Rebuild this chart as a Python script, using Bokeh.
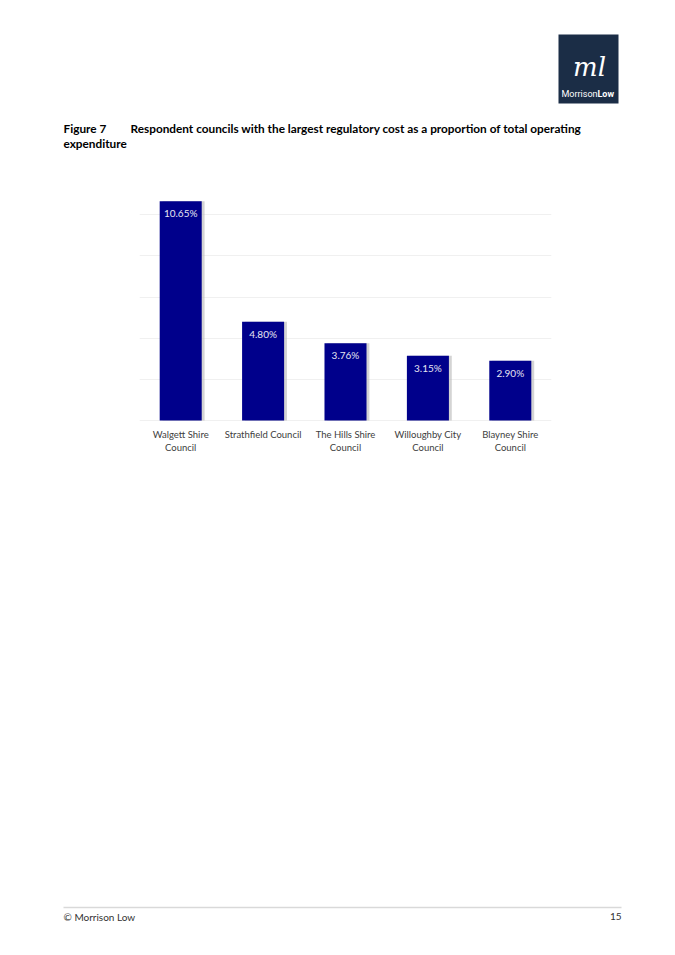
from bokeh.plotting import figure
from bokeh.layouts import column
from bokeh.models import Range1d, FactorRange, ColumnDataSource, Grid, FixedTicker
from bokeh.transform import dodge
from bokeh.core.properties import value
from bokeh.embed import file_html
from bokeh.resources import INLINE

# ---------------- data ----------------
councils = ["Walgett Shire Council", "Strathfield Council", "The Hills Shire Council",
            "Willoughby City Council", "Blayney Shire Council"]
council_line1 = ["Walgett Shire", "Strathfield Council", "The Hills Shire", "Willoughby City", "Blayney Shire"]
council_line2 = ["Council", "", "Council", "Council", "Council"]
cost_share = [10.65, 4.80, 3.76, 3.15, 2.90]
value_labels = ["10.65%", "4.80%", "3.76%", "3.15%", "2.90%"]
y_ticks = [0, 2, 4, 6, 8, 10, 12]

title_num = "Figure 7"
title_line1 = "Respondent councils with the largest regulatory cost as a proportion of total operating"
title_line2 = "expenditure"
footer_left = "\u00a9 Morrison Low"
footer_right = "15"

W = 675
FONT = "Lato"
BAR = "#00008B"

# ---------------- header ----------------
HH = 160
head = figure(width=W, height=HH, x_range=Range1d(0, W), y_range=Range1d(HH, 0),
              x_axis_type=None, y_axis_type=None, toolbar_location=None,
              output_backend="svg", min_border=0, outline_line_color=None, frame_align=False)
head.grid.visible = False
head.quad(left=[558], right=[618], top=[34], bottom=[103], fill_color="#1B2D46", line_color=None)
head.text(x=[589], y=[66], text=["ml"], text_align="center", text_baseline="middle",
          text_font=value("DejaVu Serif"), text_font_style="italic", text_font_size="26px",
          text_color="white")
head.text(x=[597], y=[93], text=["Morrison"], text_align="right", text_baseline="middle",
          text_font=value("Roboto"), text_font_size="9px", text_color="white")
head.text(x=[597], y=[93], text=["Low"], text_align="left", text_baseline="middle",
          text_font=value("Roboto"), text_font_style="bold", text_font_size="9px", text_color="white")
head.text(x=[63], y=[128], text=[title_num], text_align="left", text_baseline="middle",
          text_font=value(FONT), text_font_style="bold", text_font_size="11.8px", text_color="black")
head.text(x=[130], y=[128], text=[title_line1], text_align="left", text_baseline="middle",
          text_font=value(FONT), text_font_style="bold", text_font_size="11.8px", text_color="black")
head.text(x=[63], y=[143], text=[title_line2], text_align="left", text_baseline="middle",
          text_font=value(FONT), text_font_style="bold", text_font_size="11.8px", text_color="black")

# ---------------- chart ----------------
CH = 310
source = ColumnDataSource(dict(council=councils, share=cost_share, label=value_labels,
                               l1=council_line1, l2=council_line2, base=[0] * len(councils)))
chart = figure(width=W, height=CH, x_range=FactorRange(factors=councils, range_padding=0),
               y_range=Range1d(-1.94, 12), x_axis_type=None, y_axis_type=None,
               toolbar_location=None, output_backend="svg", min_border_left=139,
               min_border_right=124, min_border_top=13, min_border_bottom=10,
               outline_line_color=None, frame_align=False)
chart.add_layout(Grid(dimension=1, ticker=FixedTicker(ticks=y_ticks),
                      grid_line_color="#F0F0F0", grid_line_width=1))
chart.vbar(x=dodge("council", 0.035, range=chart.x_range), top="share", bottom="base", width=0.51,
           source=source, fill_color="#B8B8B8", fill_alpha=0.6, line_color=None)
chart.vbar(x="council", top="share", bottom="base", width=0.51, source=source,
           fill_color=BAR, line_color=None)
chart.text(x="council", y="share", text="label", source=source, text_align="center",
           text_baseline="middle", y_offset=12, text_font=value(FONT), text_font_size="10px",
           text_color="#E6E6F2")
chart.text(x="council", y="base", text="l1", source=source, text_align="center",
           text_baseline="middle", y_offset=14, text_font=value(FONT), text_font_size="9.5px",
           text_color="#404040")
chart.text(x="council", y="base", text="l2", source=source, text_align="center",
           text_baseline="middle", y_offset=27, text_font=value(FONT), text_font_size="9.5px",
           text_color="#404040")

# ---------------- footer ----------------
FH = 955 - HH - CH
foot = figure(width=W, height=FH, x_range=Range1d(0, W), y_range=Range1d(FH, 0),
              x_axis_type=None, y_axis_type=None, toolbar_location=None,
              output_backend="svg", min_border=0, outline_line_color=None, frame_align=False)
foot.grid.visible = False
foot.segment(x0=[63], x1=[621], y0=[437], y1=[437], line_color="#D9D9D9", line_width=1.5)
foot.text(x=[63], y=[446], text=[footer_left], text_align="left", text_baseline="middle",
          text_font=value(FONT), text_font_size="10px", text_color="#333333")
foot.text(x=[621], y=[446], text=[footer_right], text_align="right", text_baseline="middle",
          text_font=value(FONT), text_font_size="10px", text_color="#333333")

page = column(head, chart, foot, spacing=0)
open("out.html", "w").write(file_html(page, INLINE))
